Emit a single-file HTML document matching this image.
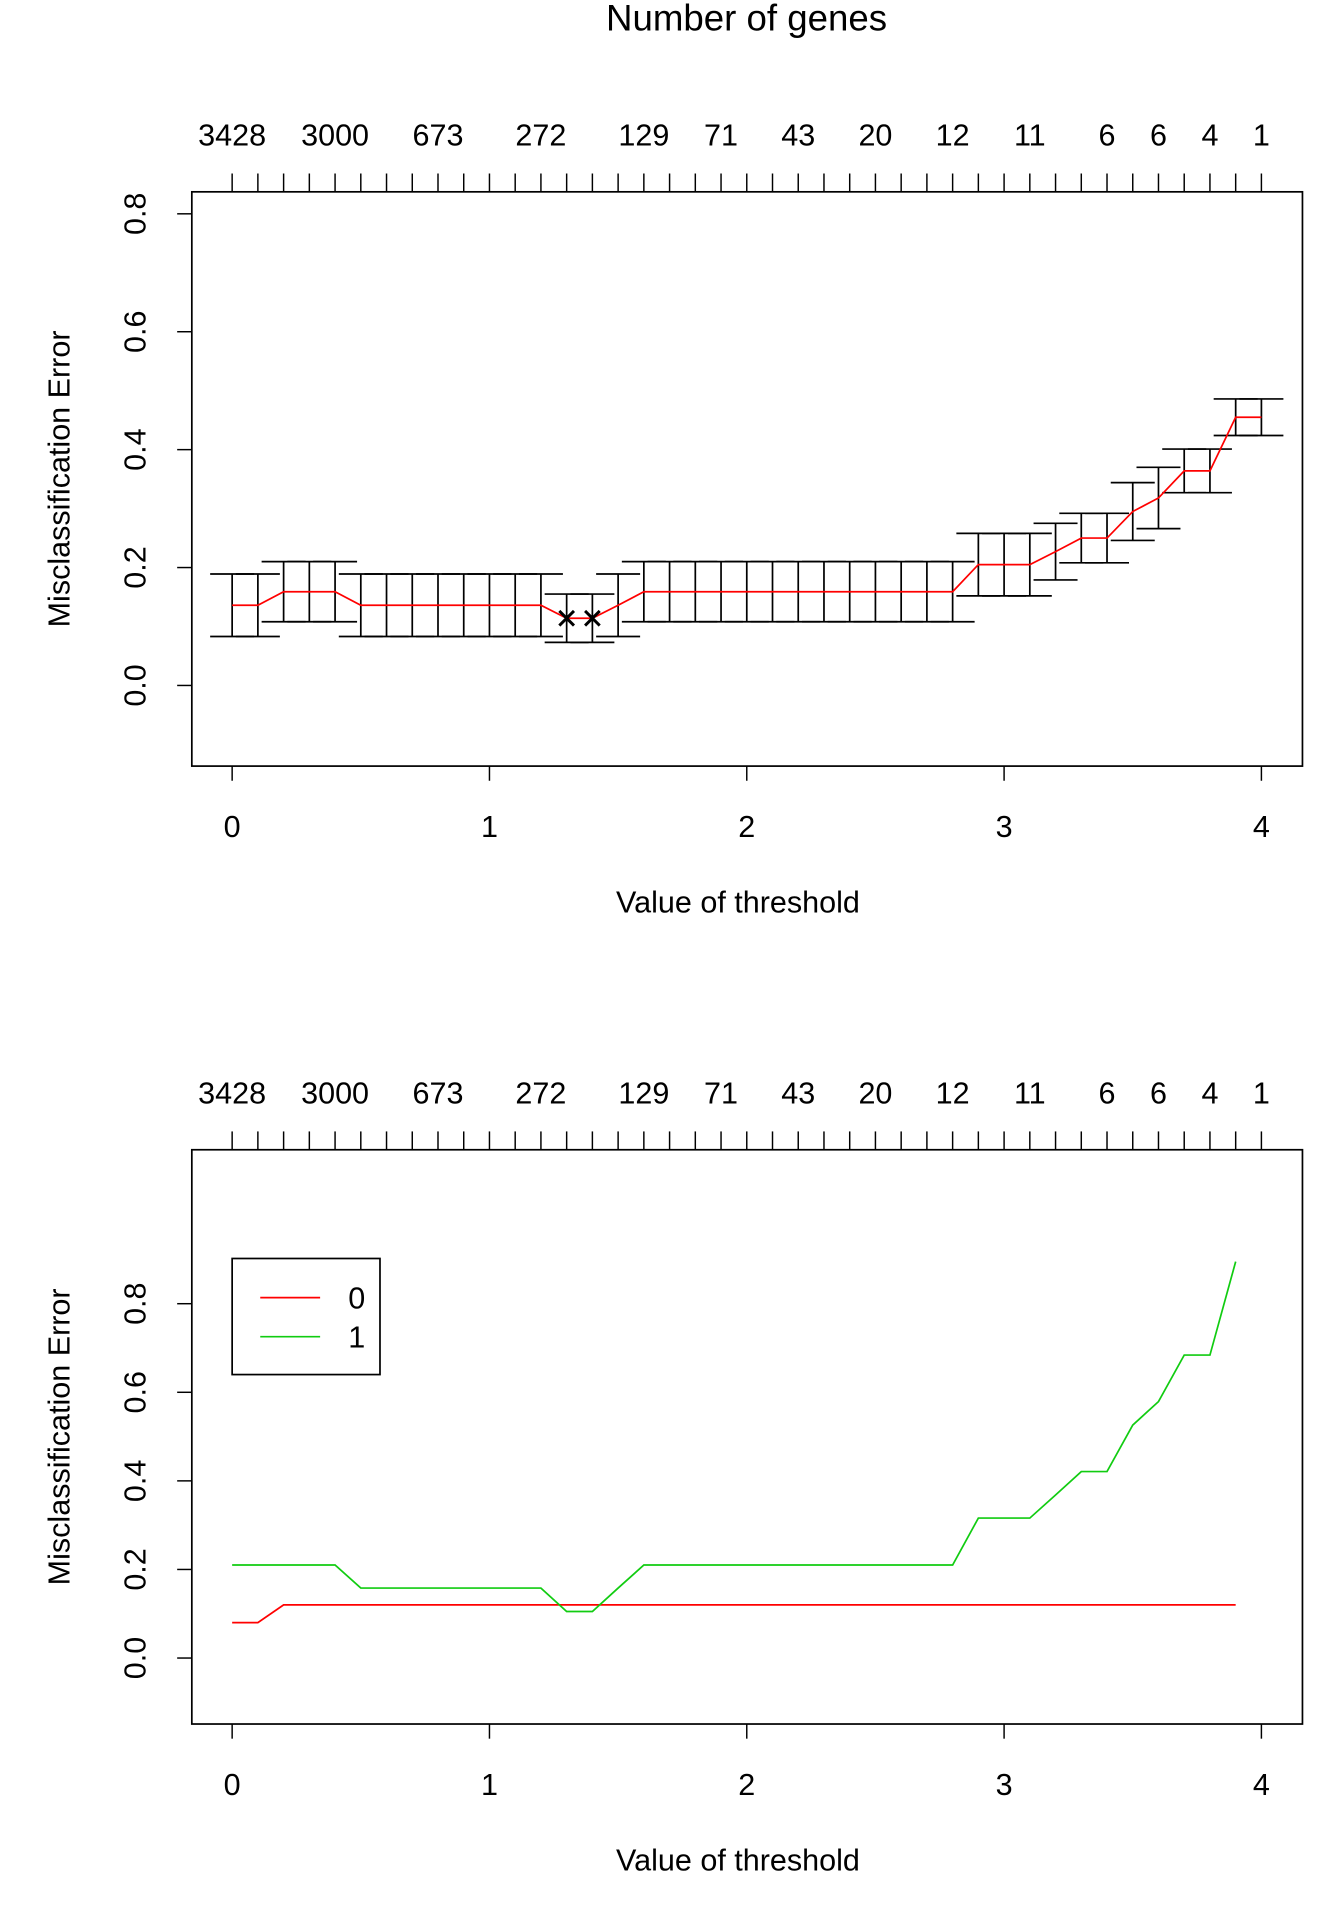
<!DOCTYPE html>
<html><head><meta charset="utf-8"><style>
html,body{margin:0;padding:0;background:#fff}
svg{display:block;font-family:"Liberation Sans",Arial,sans-serif}
</style></head><body>
<svg id="c" width="1344" height="1920" viewBox="0 0 1100 1571.4" preserveAspectRatio="none" xmlns="http://www.w3.org/2000/svg"></svg>
<script>
const thresholds=[0,0.1,0.2,0.3,0.4,0.5,0.6,0.7,0.8,0.9,1.0,1.1,1.2,1.3,1.4,1.5,1.6,1.7,1.8,1.9,2.0,2.1,2.2,2.3,2.4,2.5,2.6,2.7,2.8,2.9,3.0,3.1,3.2,3.3,3.4,3.5,3.6,3.7,3.8,3.9,4.0];
const errMean=[0.136,0.136,0.159,0.159,0.159,0.136,0.136,0.136,0.136,0.136,0.136,0.136,0.136,0.114,0.114,0.136,0.159,0.159,0.159,0.159,0.159,0.159,0.159,0.159,0.159,0.159,0.159,0.159,0.159,0.205,0.205,0.205,0.227,0.25,0.25,0.295,0.318,0.364,0.364,0.455,0.455];
const errSE=[0.053,0.053,0.051,0.051,0.051,0.053,0.053,0.053,0.053,0.053,0.053,0.053,0.053,0.041,0.041,0.053,0.051,0.051,0.051,0.051,0.051,0.051,0.051,0.051,0.051,0.051,0.051,0.051,0.051,0.053,0.053,0.053,0.048,0.042,0.042,0.049,0.052,0.037,0.037,0.031,0.031];
const minIdx=[13,14];
const class0Err=[0.08,0.08,0.12,0.12,0.12,0.12,0.12,0.12,0.12,0.12,0.12,0.12,0.12,0.12,0.12,0.12,0.12,0.12,0.12,0.12,0.12,0.12,0.12,0.12,0.12,0.12,0.12,0.12,0.12,0.12,0.12,0.12,0.12,0.12,0.12,0.12,0.12,0.12,0.12,0.12];
const class1Err=[0.21,0.21,0.21,0.21,0.21,0.158,0.158,0.158,0.158,0.158,0.158,0.158,0.158,0.105,0.105,0.158,0.21,0.21,0.21,0.21,0.21,0.21,0.21,0.21,0.21,0.21,0.21,0.21,0.21,0.316,0.316,0.316,0.368,0.421,0.421,0.526,0.579,0.684,0.684,0.895];
const geneLabels=["3428","3000","673","272","129","71","43","20","12","11","6","6","4","1"];
const geneLabelAt=[0,0.4,0.8,1.2,1.6,1.9,2.2,2.5,2.8,3.1,3.4,3.6,3.8,4.0];
const xTicks=[0,1,2,3,4];
const yTicks=[0.0,0.2,0.4,0.6,0.8];
const svg=document.getElementById('c');
const NS='http://www.w3.org/2000/svg';
function mk(t,a,txt){const e=document.createElementNS(NS,t);for(const k in a)e.setAttribute(k,a[k]);if(txt!=null)e.textContent=txt;svg.appendChild(e);return e;}
const X=v=>190+v*210.6;
function panel(top,y0,yUnit){
  const Y=v=>y0-v*yUnit;
  let e=mk('rect',{x:157,y:top,width:909,height:470,fill:'none',stroke:'#000','stroke-width':1.4});
  
  for(const t of xTicks){
    e=mk('line',{x1:X(t),x2:X(t),y1:top+470,y2:top+482,stroke:'#000','stroke-width':1.2});
    
    e=mk('text',{x:X(t),y:top+528,'font-size':25,'text-anchor':'middle'},String(t));
    
  }
  for(const t of yTicks){
    e=mk('line',{x1:145,x2:157,y1:Y(t),y2:Y(t),stroke:'#000','stroke-width':1.2});
    
    e=mk('text',{x:0,y:0,'font-size':25,'text-anchor':'middle',transform:`translate(119,${Y(t)}) rotate(-90)`},t.toFixed(1));
    
  }
  for(const t of thresholds){
    e=mk('line',{x1:X(t),x2:X(t),y1:top-15,y2:top,stroke:'#000','stroke-width':1.2});
    
  }
  geneLabels.forEach((g,i)=>{
    e=mk('text',{x:X(geneLabelAt[i]),y:top-38,'font-size':25,'text-anchor':'middle'},g);
    
  });
  e=mk('text',{x:604,y:top+590,'font-size':25,'text-anchor':'middle'},'Value of threshold');
  
  e=mk('text',{x:0,y:0,'font-size':25,'text-anchor':'middle',transform:`translate(57,${top+235}) rotate(-90)`},'Misclassification Error');
  
  return Y;
}
let e=mk('text',{x:611,y:25,'font-size':30,'text-anchor':'middle'},'Number of genes');

const Y1=panel(157,561,482.5);
thresholds.forEach((t,i)=>{
  const lo=Y1(errMean[i]-errSE[i]),hi=Y1(errMean[i]+errSE[i]);
  e=mk('path',{d:`M${X(t)},${lo}V${hi}M${X(t)-18},${lo}H${X(t)+18}M${X(t)-18},${hi}H${X(t)+18}`,stroke:'#000','stroke-width':1.4,fill:'none'});
  
});
e=mk('polyline',{points:thresholds.map((t,i)=>X(t)+','+Y1(errMean[i])).join(' '),fill:'none',stroke:'#f00','stroke-width':1.4});

for(const i of minIdx){
  const cx=X(thresholds[i]),cy=Y1(errMean[i]);
  e=mk('path',{d:`M${cx-6},${cy-6}L${cx+6},${cy+6}M${cx-6},${cy+6}L${cx+6},${cy-6}`,stroke:'#000','stroke-width':2.4,fill:'none'});
  
}
const Y2=panel(941,1357,362.5);
e=mk('polyline',{points:class0Err.map((v,i)=>X(thresholds[i])+','+Y2(v)).join(' '),fill:'none',stroke:'#f00','stroke-width':1.4});

e=mk('polyline',{points:class1Err.map((v,i)=>X(thresholds[i])+','+Y2(v)).join(' '),fill:'none',stroke:'#1c1','stroke-width':1.4});

e=mk('rect',{x:190,y:1030,width:121,height:95,fill:'#fff',stroke:'#000','stroke-width':1.4});

e=mk('line',{x1:213,x2:262,y1:1062,y2:1062,stroke:'#f00','stroke-width':1.4});

e=mk('text',{x:285,y:1071,'font-size':25},'0');

e=mk('line',{x1:213,x2:262,y1:1094,y2:1094,stroke:'#1c1','stroke-width':1.4});

e=mk('text',{x:285,y:1103,'font-size':25},'1');

</script>
</body></html>
